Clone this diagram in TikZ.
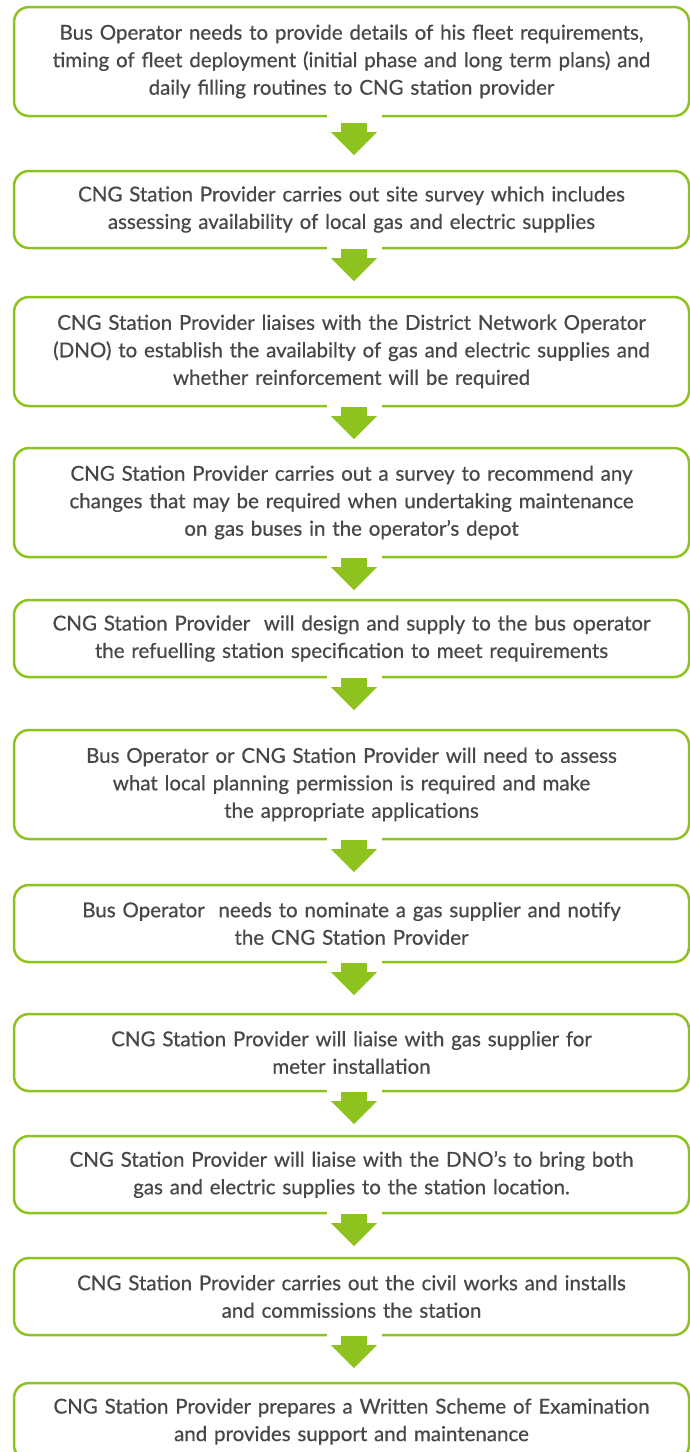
\documentclass[tikz,border=0pt]{standalone}
\usepackage{fontspec}
\setmainfont{Lato}[FakeBold=0.6]
\usetikzlibrary{positioning,arrows.meta}
\definecolor{leaf}{RGB}{141,194,31}
\definecolor{ink}{RGB}{72,72,72}
\begin{document}
\begin{tikzpicture}[x=1pt,y=1pt]
       \tikzstyle{stagenode}=[draw=leaf, line width=2.5pt, rounded corners=15pt, fill=white, outer sep=0pt, inner sep=0pt, minimum width=675pt, text width=670pt, align=center, text=ink, font=\fontsize{20.5}{27.5}\selectfont]
       \tikzstyle{tallnode}=[stagenode, minimum height=109pt]
       \tikzstyle{shortnode}=[stagenode, minimum height=77pt]
       \tikzstyle{notch}=[draw=white, line width=55pt]
       \tikzstyle{flow}=[draw=leaf, line width=26pt, -{Triangle[width=46pt,length=23pt,line width=0pt]}]
       \useasboundingbox (0,0) rectangle (690,-1452);
       \node[tallnode] (b1) at (351.5,-61.5) {Bus Operator needs to provide details of his fleet requirements,\\ timing of fleet deployment (initial phase and long term plans) and\\ daily filling routines to CNG station provider};
       \node[shortnode, below=55pt of b1] (b2) {CNG Station Provider carries out site survey which includes\\ assessing availability of local gas and electric supplies};
       \node[tallnode, below=49pt of b2] (b3) {CNG Station Provider liaises with the District Network Operator\\ (DNO) to establish the availabilty of gas and electric supplies and\\ whether reinforcement will be required};
       \node[tallnode, below=42pt of b3] (b4) {CNG Station Provider carries out a survey to recommend any\\ changes that may be required when undertaking maintenance\\ on gas buses in the operator’s depot};
       \node[shortnode, below=43pt of b4] (b5) {CNG Station Provider\ \ will design and supply to the bus operator\\ the refuelling station specification to meet requirements};
       \node[tallnode, below=53pt of b5] (b6) {Bus Operator or CNG Station Provider will need to assess\\ what local planning permission is required and make\\ the appropriate applications};
       \node[shortnode, below=46pt of b6] (b7) {Bus Operator\ \ needs to nominate a gas supplier and notify\\ the CNG Station Provider};
       \node[shortnode, below=52pt of b7] (b8) {CNG Station Provider will liaise with gas supplier for\\ meter installation};
       \node[shortnode, below=45pt of b8] (b9) {CNG Station Provider will liaise with the DNO’s to bring both\\ gas and electric supplies to the station location.};
       \node[shortnode, below=45pt of b9] (b10) {CNG Station Provider carries out the civil works and installs\\ and commissions the station};
       \node[shortnode, below=48pt of b10] (b11) {CNG Station Provider prepares a Written Scheme of Examination\\ and provides support and maintenance};
       % arrows between the stages
       \draw[notch] ([xshift=2.5pt,yshift=2pt]b1.south) -- ([xshift=2.5pt,yshift=-2pt]b1.south);
       \draw[flow, shorten <=7pt, shorten >=16pt] ([xshift=2.5pt]b1.south) -- ([xshift=2.5pt]b2.north);
       \draw[notch] ([xshift=2.5pt,yshift=2pt]b2.south) -- ([xshift=2.5pt,yshift=-2pt]b2.south);
       \draw[flow, shorten <=1pt, shorten >=16pt] ([xshift=2.5pt]b2.south) -- ([xshift=2.5pt]b3.north);
       \draw[notch] ([xshift=2.5pt,yshift=2pt]b3.south) -- ([xshift=2.5pt,yshift=-2pt]b3.south);
       \draw[flow, shorten <=1pt, shorten >=9pt] ([xshift=2.5pt]b3.south) -- ([xshift=2.5pt]b4.north);
       \draw[notch] ([xshift=2.5pt,yshift=2pt]b4.south) -- ([xshift=2.5pt,yshift=-2pt]b4.south);
       \draw[flow, shorten <=1pt, shorten >=10pt] ([xshift=2.5pt]b4.south) -- ([xshift=2.5pt]b5.north);
       \draw[notch] ([xshift=2.5pt,yshift=2pt]b5.south) -- ([xshift=2.5pt,yshift=-2pt]b5.south);
       \draw[flow, shorten <=1pt, shorten >=20pt] ([xshift=2.5pt]b5.south) -- ([xshift=2.5pt]b6.north);
       \draw[notch] ([xshift=2.5pt,yshift=2pt]b6.south) -- ([xshift=2.5pt,yshift=-2pt]b6.south);
       \draw[flow, shorten <=1pt, shorten >=13pt] ([xshift=2.5pt]b6.south) -- ([xshift=2.5pt]b7.north);
       \draw[notch] ([xshift=2.5pt,yshift=2pt]b7.south) -- ([xshift=2.5pt,yshift=-2pt]b7.south);
       \draw[flow, shorten <=1pt, shorten >=19pt] ([xshift=2.5pt]b7.south) -- ([xshift=2.5pt]b8.north);
       \draw[notch] ([xshift=2.5pt,yshift=2pt]b8.south) -- ([xshift=2.5pt,yshift=-2pt]b8.south);
       \draw[flow, shorten <=1pt, shorten >=12pt] ([xshift=2.5pt]b8.south) -- ([xshift=2.5pt]b9.north);
       \draw[notch] ([xshift=2.5pt,yshift=2pt]b9.south) -- ([xshift=2.5pt,yshift=-2pt]b9.south);
       \draw[flow, shorten <=1pt, shorten >=12pt] ([xshift=2.5pt]b9.south) -- ([xshift=2.5pt]b10.north);
       \draw[notch] ([xshift=2.5pt,yshift=2pt]b10.south) -- ([xshift=2.5pt,yshift=-2pt]b10.south);
       \draw[flow, shorten <=1pt, shorten >=15pt] ([xshift=2.5pt]b10.south) -- ([xshift=2.5pt]b11.north);
      \end{tikzpicture}
\end{document}
